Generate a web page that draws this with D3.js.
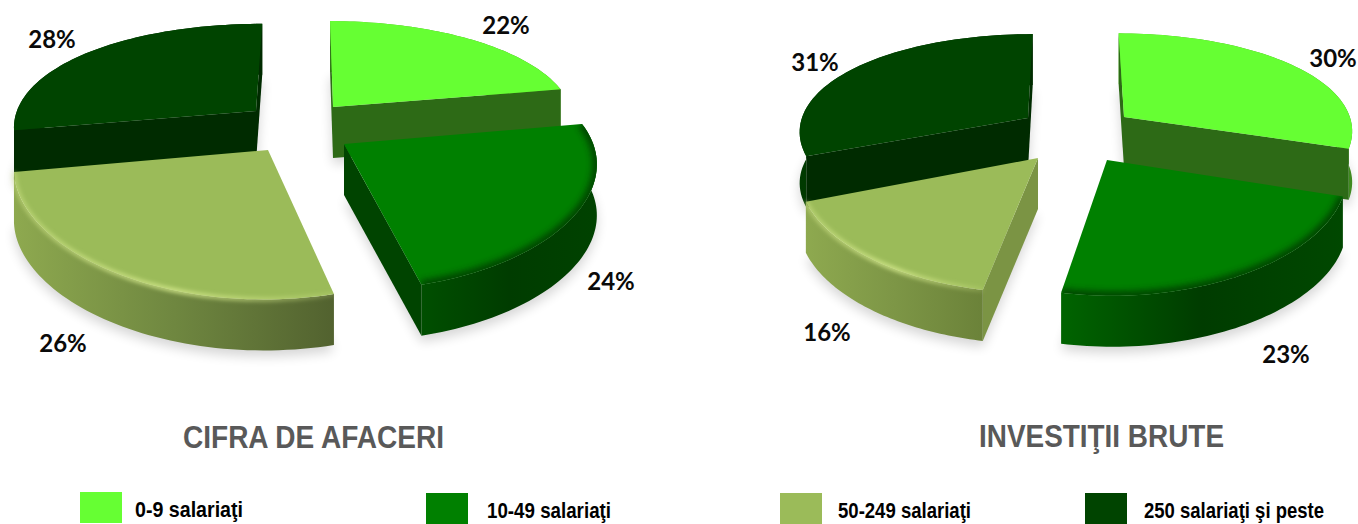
<!DOCTYPE html>
<html><head><meta charset="utf-8">
<script src="https://cdnjs.cloudflare.com/ajax/libs/d3/7.8.5/d3.min.js"></script>
<style>html,body{margin:0;padding:0;background:#fff;overflow:hidden}svg{display:block}</style>
</head><body><svg id="c" width="1358" height="524"></svg>
<script>
const categories = ["0-9 salariaţi","10-49 salariaţi","50-249 salariaţi","250 salariaţi şi peste"];
const cifraValues = [22,24,26,28];
const investValues = [30,23,16,31];
const chartTitles = ["CIFRA DE AFACERI","INVESTIŢII BRUTE"];

const topColors = ["#66ff33","#008000","#9bbb59","#004400"];
const cutColors = ["#2d6a16","#004400","#7b9444","#002b00"];
const wallStopsLeft = [["#58c22c","#4aa024","#3f8a20"],["#004f00","#003c00","#004200"],["#8ea94f","#6f8740","#52622f"],["#003a00","#003000","#002b00"]];
const wallStopsRight = [["#58c22c","#4aa024","#3f8a20"],["#006400","#003c00","#004800"],["#8ea94f","#7d9646","#6b8239"],["#003a00","#003000","#002b00"]];

const pies = [
 {values:cifraValues,title:chartTitles[0],rot:.5,cx:293,cy:140,Rx:248,Ry:115,k:.2,kx:.14,depth:51,wall:wallStopsLeft,
  apex:[[333,107],[344,144],[268,150],[256,111]],
  labels:[[506,34],[611,290],[63,352],[52,48]],titleX:[183,444],titleY:448},
 {values:investValues,title:chartTitles[1],rot:0,cx:1073,cy:140,Rx:232,Ry:105,k:.17,kx:.12,depth:51,wall:wallStopsRight,
  apex:[[1124,117],[1107,160],[1038,158],[1028,118]],
  labels:[[1333,67],[1286,363],[827,341],[815,71]],titleX:[979,1224],titleY:447}
];
const legendX=[80,426,780,1085], legendTextX=[135,487,838,1144], legendTextW=[108,124,133,180], legendTextY=[517,518,518,518];

const svg=d3.select("#c");
const defs=svg.append("defs");
const addBlur=(id,s)=>defs.append("filter").attr("id",id).attr("x","-30%").attr("y","-30%").attr("width","160%").attr("height","160%")
  .append("feGaussianBlur").attr("stdDeviation",s);
addBlur("blurS",6); addBlur("blurR",2); addBlur("blurD",3);
const rimG=defs.append("linearGradient").attr("id","rimG");
[[0,.55],[.5,1],[1,.25]].forEach(s=>rimG.append("stop").attr("offset",s[0]).attr("stop-color","#d2e78a").attr("stop-opacity",s[1]));
const line=d3.line();

pies.forEach((p,pi)=>{
  p.wall.forEach((s,i)=>{
    const g=defs.append("linearGradient").attr("id",`w${pi}${i}`);
    s.forEach((c,j)=>g.append("stop").attr("offset",j/2).attr("stop-color",c));
  });
  const rot=p.rot*Math.PI/180;
  const arcs=d3.pie().sort(null).startAngle(rot).endAngle(2*Math.PI+rot)(p.values);
  const toWorld=(a)=>{
    const dy=a[1]-p.cy, Y0=dy/(p.Ry+p.k*dy), w=1-p.kx*Y0;
    return [(a[0]-p.cx)*w/p.Rx, Y0];
  };
  const proj=(i,t,dz=0)=>{
    const o=toWorld(p.apex[i]);
    const X=o[0]+Math.sin(t),Y=o[1]-Math.cos(t);
    return [p.cx+p.Rx*X/(1-p.kx*Y), p.cy+p.Ry*Y/(1-p.k*Y)+dz];
  };
  const rim=(i,a,dz=0)=>d3.range(0,61).map(j=>proj(i,a.startAngle+(a.endAngle-a.startAngle)*j/60,dz));
  const g=svg.append("g");
  arcs.forEach((a,i)=>{
    g.append("path").attr("d",line([[p.apex[i][0],p.apex[i][1]+p.depth+6],...rim(i,a,p.depth+6)])+"Z")
     .attr("fill","#000").attr("opacity",.16).attr("filter","url(#blurS)");
  });
  [0,3,1,2].forEach(i=>{
    const a=arcs[i], A=p.apex[i], r=rim(i,a), rb=rim(i,a,p.depth);
    g.append("path").attr("d",line([...r,...rb.slice().reverse()])+"Z").attr("fill",`url(#w${pi}${i})`);
    const M=proj(i,(a.startAngle+a.endAngle)/2);
    [r[0],r[r.length-1]].forEach(P=>{
      const dx=P[0]-A[0],dy=P[1]-A[1];
      const side=dx*(M[1]-A[1])-dy*(M[0]-A[0]);
      if(side*dx<0){
        g.append("path").attr("d",line([A,P,[P[0],P[1]+p.depth],[A[0],A[1]+p.depth]])+"Z").attr("fill",cutColors[i]);
      }
    });
    const clipId=`cl${pi}${i}`;
    defs.append("clipPath").attr("id",clipId).append("path").attr("d",line([A,...r])+"Z");
    g.append("path").attr("d",line([A,...r])+"Z").attr("fill",topColors[i]);
    if(i===2){
      const vis=r.filter(q=>q[1]>A[1]+15);
      g.append("path").attr("d",line(vis)).attr("fill","none").attr("stroke","url(#rimG)").attr("stroke-width",4).attr("filter","url(#blurR)");
    }
    if(i===1){
      g.append("g").attr("clip-path",`url(#${clipId})`).append("path").attr("d",line(r)).attr("fill","none").attr("stroke","#003000").attr("stroke-width",9).attr("filter","url(#blurD)").attr("opacity",.75);
    }
  });
  p.values.forEach((v,i)=>{
    svg.append("text").attr("x",p.labels[i][0]).attr("y",p.labels[i][1]).attr("text-anchor","middle")
      .attr("font-family","Lato, Carlito, sans-serif").attr("font-weight",700).attr("font-size",24).attr("fill","#0a0a0a").text(v+"%");
  });
  svg.append("text").attr("x",p.titleX[0]).attr("y",p.titleY).attr("textLength",p.titleX[1]-p.titleX[0]).attr("lengthAdjust","spacingAndGlyphs")
    .attr("font-family","'Liberation Sans', Arial, sans-serif").attr("font-weight",700).attr("font-size",32).attr("fill","#595959").text(p.title);
});

categories.forEach((c,i)=>{
  svg.append("rect").attr("x",legendX[i]).attr("y",i?493:492).attr("width",42).attr("height",31).attr("fill",topColors[i]);
  svg.append("text").attr("x",legendTextX[i]).attr("y",legendTextY[i]).attr("textLength",legendTextW[i]).attr("lengthAdjust","spacingAndGlyphs")
    .attr("font-family","'Liberation Sans', Arial, sans-serif").attr("font-weight",700).attr("font-size",22).attr("fill","#000").text(c);
});
</script></body></html>
